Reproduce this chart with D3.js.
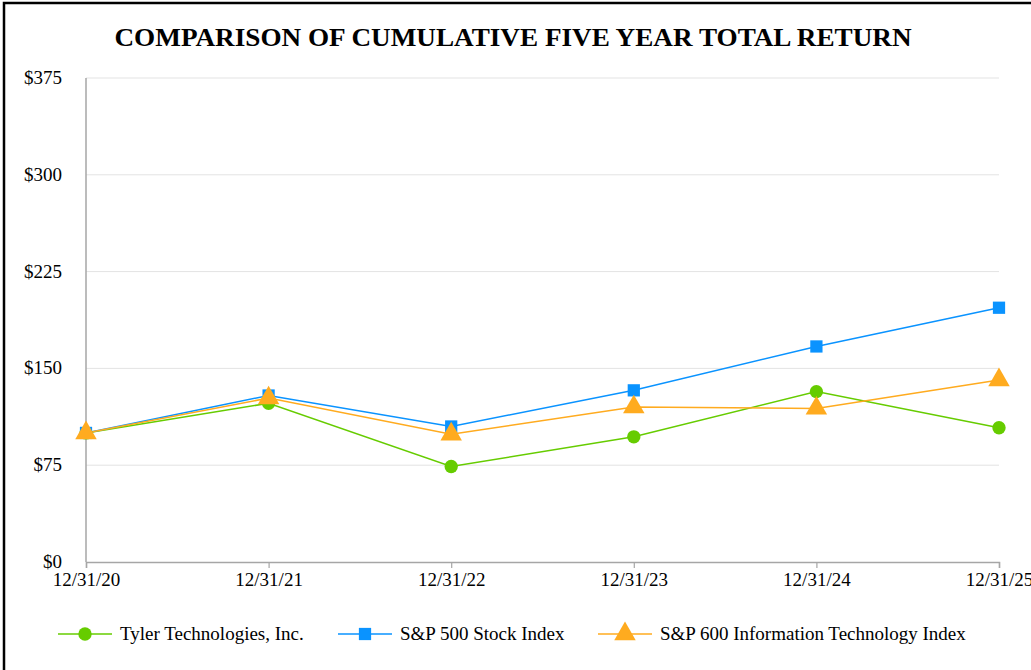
<!DOCTYPE html>
<html lang="en">
<head>
<meta charset="UTF-8">
<title>Cumulative Total Return</title>
<script src="https://d3js.org/d3.v7.min.js"></script>
<style>
  body { margin: 0; background: #fff; }
  svg text { font-family: "Liberation Serif", "DejaVu Serif", serif !important; fill: #000; }
</style>
</head>
<body>
<script>
  var dates = ["12/31/20", "12/31/21", "12/31/22", "12/31/23", "12/31/24", "12/31/25"];
  var tyler = [100, 123, 74, 97, 132, 104];
  var sp500 = [100, 129, 105, 133, 167, 197];
  var sp600it = [100, 127, 99, 120, 119, 141];
  var yTicks = [0, 75, 150, 225, 300, 375];
  var seriesNames = ["Tyler Technologies, Inc.", "S&P 500 Stock Index", "S&P 600 Information Technology Index"];

  var colors = ["#66cc00", "#0a93ff", "#ffab1f"];
  var shapes = [d3.symbolCircle, d3.symbolSquare, d3.symbolTriangle];
  var sizes = [140, 150, 200];

  var W = 1031, H = 670;
  var svg = d3.select("body").append("svg")
    .attr("width", W)
    .attr("height", H);

  // outer frame
  svg.append("rect")
    .attr("x", 4).attr("y", 3)
    .attr("width", W + 10).attr("height", H + 10)
    .attr("fill", "none")
    .attr("stroke", "#000")
    .attr("stroke-width", 2.5);

  svg.append("text")
    .attr("x", 513).attr("y", 46)
    .attr("text-anchor", "middle")
    .attr("font-size", "26px")
    .attr("font-weight", "bold")
    .attr("textLength", 797)
    .attr("lengthAdjust", "spacingAndGlyphs")
    .text("COMPARISON OF CUMULATIVE FIVE YEAR TOTAL RETURN");

  var x = d3.scalePoint().domain(dates).range([86, 999]);
  var y = d3.scaleLinear().domain([0, 375]).range([562, 78]);

  // gridlines
  svg.append("g").selectAll("line")
    .data(yTicks.slice(1))
    .enter().append("line")
    .attr("x1", 86).attr("x2", 999)
    .attr("y1", function (d) { return y(d); })
    .attr("y2", function (d) { return y(d); })
    .attr("stroke", "#e3e3e3")
    .attr("stroke-width", 1);

  // y labels
  svg.append("g").selectAll("text")
    .data(yTicks)
    .enter().append("text")
    .attr("x", 62)
    .attr("y", function (d) { return y(d) + 6; })
    .attr("text-anchor", "end")
    .attr("font-size", "19px")
    .text(function (d) { return "$" + d; });

  // axes lines
  svg.append("line")
    .attr("x1", 86).attr("x2", 86).attr("y1", 78).attr("y2", 562)
    .attr("stroke", "#a6a6a6").attr("stroke-width", 1.5);

  var xAxis = svg.append("g")
    .attr("transform", "translate(0,562)")
    .call(d3.axisBottom(x).tickSize(6).tickPadding(5));
  xAxis.attr("font-family", null);
  xAxis.select(".domain").attr("stroke", "#a6a6a6").attr("stroke-width", 1.5);
  xAxis.selectAll(".tick line").attr("stroke", "#a6a6a6").attr("stroke-width", 1.2);
  xAxis.selectAll(".tick text")
    .attr("font-size", "19px")
    .attr("fill", "#000");

  var allSeries = [tyler, sp500, sp600it];
  var line = d3.line()
    .x(function (d, i) { return x(dates[i]); })
    .y(function (d) { return y(d); });

  allSeries.forEach(function (vals, k) {
    svg.append("path")
      .datum(vals)
      .attr("d", line)
      .attr("fill", "none")
      .attr("stroke", colors[k])
      .attr("stroke-width", 1.5);
  });

  allSeries.forEach(function (vals, k) {
    svg.append("g").selectAll("path")
      .data(vals)
      .enter().append("path")
      .attr("transform", function (d, i) {
        return "translate(" + x(dates[i]) + "," + y(d) + ")";
      })
      .attr("d", d3.symbol().type(shapes[k]).size(sizes[k]))
      .attr("fill", colors[k]);
  });

  // legend
  var legendX = [58, 338, 598];
  var legend = svg.append("g").selectAll("g")
    .data(seriesNames)
    .enter().append("g")
    .attr("transform", function (d, i) { return "translate(" + legendX[i] + ",634)"; });

  legend.append("line")
    .attr("x1", 0).attr("x2", 54)
    .attr("stroke", function (d, i) { return colors[i]; })
    .attr("stroke-width", 1.5);
  legend.append("path")
    .attr("transform", "translate(27,0)")
    .attr("d", function (d, i) { return d3.symbol().type(shapes[i]).size(sizes[i])(); })
    .attr("fill", function (d, i) { return colors[i]; });
  legend.append("text")
    .attr("x", 62).attr("y", 6)
    .attr("font-size", "19px")
    .text(function (d) { return d; });
</script>
</body>
</html>
